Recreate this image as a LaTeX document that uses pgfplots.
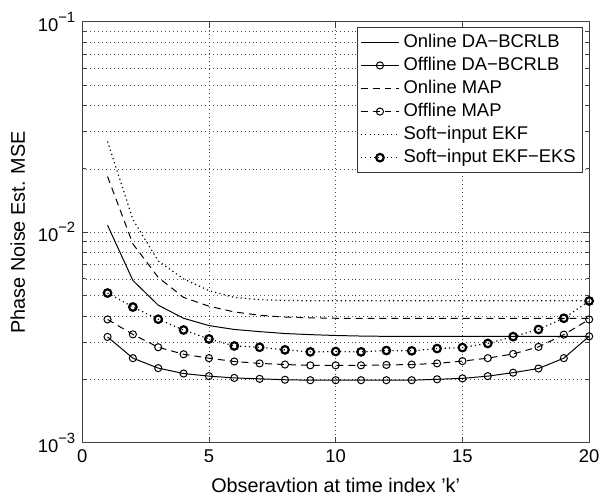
\documentclass[border=0pt]{standalone}
\usepackage{fontspec}
\setmainfont{Liberation Sans}
\usepackage{pgfplots}
\pgfplotsset{compat=1.18}

\pgfplotstableread{
k  onbcrlb  offbcrlb  onmap   offmap   ekf     eks
1  1.08e-2  3.18e-3   1.84e-2 3.85e-3  2.7e-2  5.14e-3
2  5.9e-3   2.52e-3   8.8e-3  3.27e-3  1.15e-2 4.41e-3
3  4.5e-3   2.26e-3   6.1e-3  2.84e-3  7.3e-3  3.86e-3
4  3.9e-3   2.13e-3   4.9e-3  2.63e-3  6.0e-3  3.43e-3
5  3.6e-3   2.07e-3   4.45e-3 2.52e-3  5.28e-3 3.11e-3
6  3.45e-3  2.03e-3   4.18e-3 2.43e-3  4.9e-3  2.88e-3
7  3.37e-3  2.01e-3   4.03e-3 2.38e-3  4.78e-3 2.84e-3
8  3.3e-3   1.99e-3   3.95e-3 2.35e-3  4.74e-3 2.76e-3
9  3.26e-3  1.98e-3   3.92e-3 2.33e-3  4.72e-3 2.70e-3
10 3.23e-3  1.98e-3   3.9e-3  2.33e-3  4.72e-3 2.71e-3
11 3.21e-3  1.98e-3   3.9e-3  2.33e-3  4.72e-3 2.70e-3
12 3.2e-3   1.98e-3   3.9e-3  2.34e-3  4.72e-3 2.74e-3
13 3.2e-3   1.98e-3   3.9e-3  2.35e-3  4.72e-3 2.73e-3
14 3.2e-3   2.0e-3    3.9e-3  2.38e-3  4.72e-3 2.80e-3
15 3.2e-3   2.02e-3   3.9e-3  2.44e-3  4.72e-3 2.83e-3
16 3.2e-3   2.07e-3   3.9e-3  2.52e-3  4.72e-3 2.96e-3
17 3.2e-3   2.15e-3   3.9e-3  2.64e-3  4.72e-3 3.19e-3
18 3.2e-3   2.25e-3   3.9e-3  2.85e-3  4.72e-3 3.45e-3
19 3.2e-3   2.52e-3   3.9e-3  3.26e-3  4.72e-3 3.90e-3
20 3.2e-3   3.2e-3    3.9e-3  3.85e-3  4.72e-3 4.71e-3
}\data

\begin{document}
\begin{tikzpicture}
\begin{semilogyaxis}[
    scale only axis,
    width=256pt, height=212.5pt,
    xmin=0, xmax=20,
    ymin=1e-3, ymax=1e-1,
    xtick={0,5,10,15,20},
    ytick={1e-3,1e-2,1e-1},
    yticklabels={10\raisebox{0.9ex}{\fontsize{7.5}{8}\selectfont−3},10\raisebox{0.9ex}{\fontsize{7.5}{8}\selectfont−2},10\raisebox{0.9ex}{\fontsize{7.5}{8}\selectfont−1}},
    /pgf/number format/assume math mode=true,
    tick label style={font=\fontsize{9.3}{11}\selectfont},
    tick align=inside,
    major tick length=3pt, minor tick length=1.8pt,
    axis line style={black!75, line width=0.5pt},
    every tick/.style={black!75, line width=0.4pt},
    xmajorgrids, ymajorgrids, yminorgrids,
    major grid style={black!70, line width=0.35pt, dash pattern=on 0.5pt off 1.5pt},
    minor grid style={black!70, line width=0.35pt, dash pattern=on 0.5pt off 1.5pt},
    xlabel={Obseravtion at time index 'k'},
    ylabel={Phase Noise Est. MSE},
    label style={font=\fontsize{10.5}{12}\selectfont},
    every axis x label/.style={at={(axis description cs:0.5,-0.101)}, anchor=center},
    every axis y label/.style={at={(axis description cs:-0.127,0.5)}, anchor=center, rotate=90},
    legend style={at={(rel axis cs:0.988,0.988)}, anchor=north east,
        font=\fontsize{9.3}{11}\selectfont, draw=black!80, line width=0.5pt,
        inner sep=1.5pt, row sep=-0.6pt, cells={anchor=west}},
    legend image code/.code={
        \draw[mark repeat=2,mark phase=2,#1] plot coordinates {(0cm,0cm) (0.34cm,0cm) (0.68cm,0cm)};},
    every axis plot/.append style={black, line width=0.5pt},
]
\addplot[solid] table[x=k, y=onbcrlb] {\data};
\addlegendentry{Online DA−BCRLB}
\addplot[solid, mark=o, mark size=1.8pt, mark options={solid}] table[x=k, y=offbcrlb] {\data};
\addlegendentry{Offline DA−BCRLB}
\addplot[dash pattern=on 3.5pt off 2.5pt] table[x=k, y=onmap] {\data};
\addlegendentry{Online MAP}
\addplot[dash pattern=on 3.5pt off 2.5pt, mark=o, mark size=1.8pt, mark options={solid}] table[x=k, y=offmap] {\data};
\addlegendentry{Offline MAP}
\addplot[line width=0.6pt, dash pattern=on 0.6pt off 1.6pt] table[x=k, y=ekf] {\data};
\addlegendentry{Soft−input EKF}
\addplot[line width=0.6pt, dash pattern=on 0.6pt off 1.6pt, mark=o, mark size=1.9pt, mark options={solid, line width=1.1pt}] table[x=k, y=eks] {\data};
\addlegendentry{Soft−input EKF−EKS}
\end{semilogyaxis}
\path (current axis.south west) ++(-41.5pt,-28.5pt) coordinate (bbA);
\path (current axis.north east) ++(5.5pt,11pt) coordinate (bbB);
\useasboundingbox (bbA) rectangle (bbB);
\end{tikzpicture}
\end{document}
